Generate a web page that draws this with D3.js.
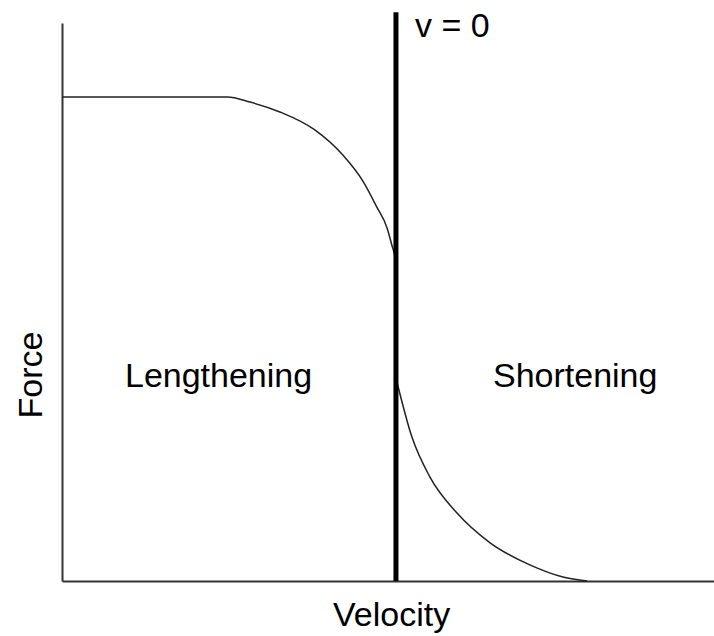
<!DOCTYPE html>
<html>
<head>
<meta charset="utf-8">
<script src="https://cdn.jsdelivr.net/npm/d3@7"></script>
<style>
    body { margin: 0; background: #fff; }
    text { font-family: "Liberation Sans", Arial, sans-serif; fill: #000; }
</style>
</head>
<body>
<svg id="svgForceVelocity" width="714" height="636"></svg>
<script>

// lengthening side (negative velocity)
const lengtheningVelocity = [-1.05, -0.531, -0.459, -0.365, -0.255, -0.167, -0.104, -0.060, -0.028, -0.013, -0.003, 0];
const lengtheningForce    = [1.561, 1.561, 1.545, 1.513, 1.455, 1.374, 1.290, 1.206, 1.139, 1.084, 1.045, 1.023];

// shortening side (positive velocity)
const shorteningVelocity = [0, 0.050, 0.107, 0.192, 0.296, 0.421, 0.525, 0.601];
const shorteningForce    = [0.655, 0.465, 0.335, 0.219, 0.123, 0.052, 0.013, 0];

const velocityDomain = [-1.05, 1];
const forceDomain = [0, 1.8];
const zeroLineTop = 1.835;

const regionLabels = [
    {text: "Lengthening", v: -0.852},
    {text: "Shortening", v: 0.305}
];
const labelForce = 0.626;

const margin = {left: 62, right: 0, top: 23, bottom: 55};

const svg = d3.select('#svgForceVelocity');
const width = +svg.attr('width');
const height = +svg.attr('height');

const innerWidth = width - margin.left - margin.right;
const innerHeight = height - margin.top - margin.bottom;

const g = svg.append('g')
    .attr('transform', `translate(${margin.left}, ${margin.top})`);

const xScale = d3.scaleLinear()
    .domain(velocityDomain)
    .range([0, innerWidth]);

const yScale = d3.scaleLinear()
    .domain(forceDomain)
    .range([innerHeight, 0]);

// axes without ticks, only the lines
g.append('g')
    .attr('transform', `translate(0, ${innerHeight})`)
    .call(d3.axisBottom(xScale).tickValues([]).tickSizeOuter(0));

g.append('g')
    .call(d3.axisLeft(yScale).tickValues([]).tickSizeOuter(0));

g.selectAll('.domain')
    .attr('stroke', '#333')
    .attr('stroke-width', 2);

const line = d3.line()
    .x(d => xScale(d[0]))
    .y(d => yScale(d[1]))
    .curve(d3.curveMonotoneX);

const curves = [
    d3.zip(lengtheningVelocity, lengtheningForce),
    d3.zip(shorteningVelocity, shorteningForce)
];

g.selectAll('.fvCurve')
    .data(curves)
    .join('path')
        .classed('fvCurve', true)
        .attr('fill', 'none')
        .attr('stroke', '#222')
        .attr('stroke-width', 1.5)
        .attr('d', line);

// v = 0 line
g.append('line')
    .attr('x1', xScale(0))
    .attr('x2', xScale(0))
    .attr('y1', yScale(zeroLineTop))
    .attr('y2', yScale(0))
    .attr('stroke', '#000')
    .attr('stroke-width', 5);

g.append('text')
    .attr('x', xScale(0) + 19)
    .attr('y', yScale(zeroLineTop) + 25)
    .style('font-size', '34px')
    .text('v = 0');

g.selectAll('.regionLabel')
    .data(regionLabels)
    .join('text')
        .classed('regionLabel', true)
        .attr('x', d => xScale(d.v))
        .attr('y', yScale(labelForce))
        .style('font-size', '34px')
        .text(d => d.text);

svg.append('text')
    .attr('x', 333)
    .attr('y', 626)
    .style('font-size', '34px')
    .text('Velocity');

svg.append('text')
    .attr('transform', 'translate(42, 375) rotate(-90)')
    .style('text-anchor', 'middle')
    .style('font-size', '34px')
    .text('Force');

</script>
</body>
</html>
